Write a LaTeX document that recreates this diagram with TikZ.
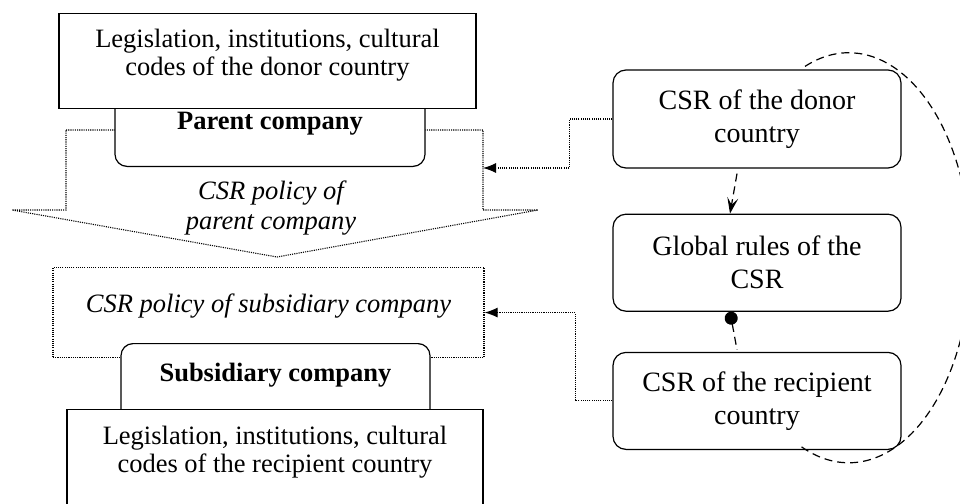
\documentclass[tikz,border=0pt]{standalone}
\usepackage{fontspec}
\setmainfont{Liberation Serif}
\usetikzlibrary{arrows.meta,positioning,calc}

\begin{document}
\begin{tikzpicture}[
    x=1pt, y=-1pt,
    lawbox/.style={rectangle, draw, line width=1.2pt, fill=white, inner sep=0pt, align=center, font=\fontsize{26.5}{28}\selectfont},
    firmbox/.style={rectangle, draw, line width=1.2pt, fill=white, rounded corners=12pt, inner sep=0pt, align=center, font=\fontsize{26.5}{28}\selectfont\bfseries},
    csrbox/.style={rectangle, draw, line width=1.2pt, rounded corners=13pt, minimum width=288pt, minimum height=97pt, align=center, font=\fontsize{28}{33}\selectfont},
    policy/.style={align=center, inner sep=0pt, font=\fontsize{26.5}{30}\selectfont\itshape},
    dotline/.style={line width=1.1pt, dash pattern=on 1.1pt off 1.1pt},
    dotarrow/.style={dotline, -{Latex[length=13pt,width=10pt]}},
    dashline/.style={line width=1.2pt, dash pattern=on 8pt off 5pt},
    dasharrow/.style={dashline, -{Stealth[length=16pt,width=11pt,inset=7pt]}}
]
\useasboundingbox (0,0) rectangle (960,503);

% Big arrow: policy of the parent company
\draw[dotline] (66,130) -- (483,130) -- (483,210) -- (538,210) -- (277,257) -- (12,210) -- (66,210) -- cycle;

% Parent company and the donor country
\node[firmbox, minimum width=310pt, text height=40pt, text depth=37pt, anchor=south] (parent) at (270,167) {Parent company};
\node[lawbox, minimum width=417pt, text height=62pt, text depth=33pt, anchor=north] (donorlaw) at (267.5,13) {Legislation, institutions, cultural\\codes of the donor country};
\node[policy, anchor=base] (parentpolicy) at (271,229) {CSR policy of\\parent company};

% Subsidiary company and the recipient country
\node[policy, draw, dotline, minimum width=431pt, text height=45pt, text depth=45pt, anchor=north] (subpolicy) at (268.5,267) {CSR policy of subsidiary company};
\node[firmbox, minimum width=309pt, text height=38pt, text depth=42pt, anchor=north] (subsidiary) at (275.5,343) {Subsidiary company};
\node[lawbox, minimum width=416pt, text height=63pt, text depth=80pt, anchor=north] (recipientlaw) at (275,409) {Legislation, institutions, cultural\\codes of the recipient country};

% CSR levels
\node[csrbox, minimum height=98pt] (csrdonor) at (757,119) {CSR of the donor\\country};
\node[csrbox, below=45pt of csrdonor] (globalrules) {Global rules of the\\CSR};
\node[csrbox, below=40pt of globalrules] (csrrecip) {CSR of the recipient\\country};

% Links
\coordinate (parentin) at (483,168);
\draw[dotarrow] (csrdonor.west) -- ++(-43,0) |- (parentin);
\draw[dotarrow] (csrrecip.west) -- ++(-37,0) |- (subpolicy.east);
\draw[dasharrow] ([xshift=-20pt,yshift=-5pt]csrdonor.south) -- ([xshift=-27pt]globalrules.north);
\draw[dashline, {Circle[length=13pt]}-] ([xshift=-27pt]globalrules.south) -- ([xshift=-20pt,yshift=2pt]csrrecip.north);
\draw[dashline] ([xshift=48pt,yshift=3pt]csrdonor.north) arc[start angle=-111, end angle=114, x radius=122, y radius=205];

\end{tikzpicture}
\end{document}
